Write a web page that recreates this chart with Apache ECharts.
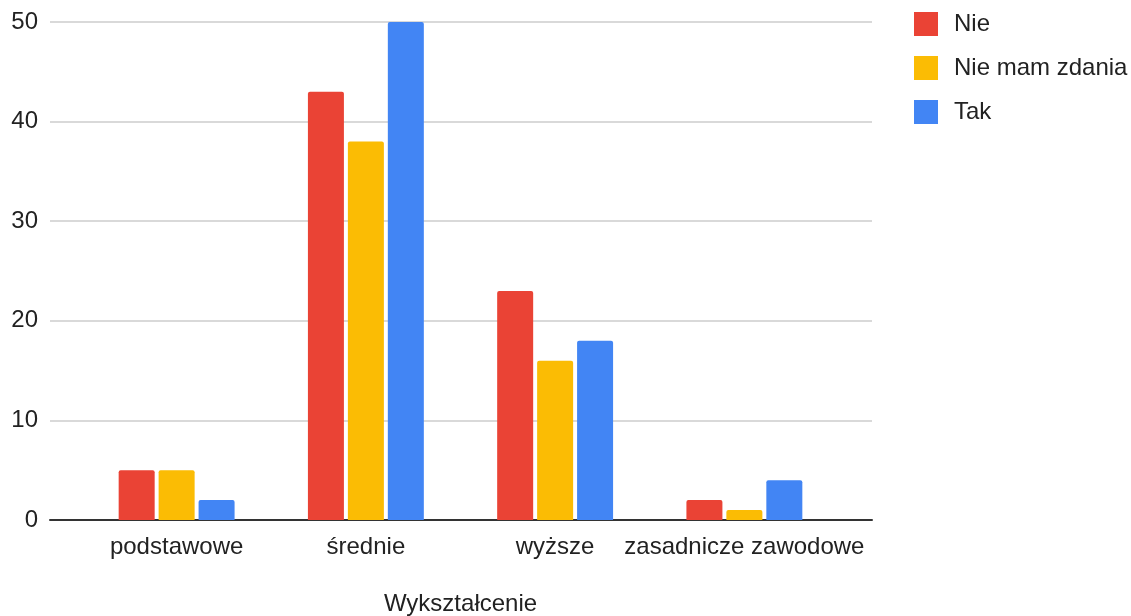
<!DOCTYPE html>
<html><head><meta charset="utf-8">
<script src="https://cdn.jsdelivr.net/npm/echarts@6/dist/echarts.min.js"></script>
<style>html,body{margin:0;padding:0;background:#fff}#c{width:1131px;height:616px}</style>
</head><body><div id="c"></div>
<script>
const categories = ['podstawowe', 'średnie', 'wyższe', 'zasadnicze zawodowe'];
const seriesNames = ['Nie', 'Nie mam zdania', 'Tak'];
const nie = [5, 43, 23, 2];
const nieMamZdania = [5, 38, 16, 1];
const tak = [2, 50, 18, 4];
const yTicks = [0, 10, 20, 30, 40, 50];
const colors = ['#EA4335', '#FBBC04', '#4285F4'];
const values = [nie, nieMamZdania, tak];

const font = '"Liberation Sans", Arial, sans-serif';
const txt = '#222';
const chart = echarts.init(document.getElementById('c'), null, {renderer: 'canvas'});
chart.setOption({
  animation: false,
  color: colors,
  textStyle: {fontFamily: font},
  legend: {
    orient: 'vertical', left: 909, top: 7,
    itemWidth: 24, itemHeight: 24, itemGap: 20, icon: 'rect',
    textStyle: {fontSize: 24, color: txt, fontFamily: font, padding: [0, 0, 0, 11]},
    data: seriesNames
  },
  grid: [
    {left: 50, right: 259, top: 22, bottom: 96, outerBoundsMode: 'none', containLabel: false},
    {left: 82, right: 292, top: 22, bottom: 96, outerBoundsMode: 'none', containLabel: false}
  ],
  xAxis: [
    {type: 'category', gridIndex: 0, data: categories, axisLabel: {show: false}, axisTick: {show: false},
     axisLine: {show: true, lineStyle: {color: '#333', width: 2}}},
    {type: 'category', gridIndex: 1, data: categories, axisTick: {show: false}, axisLine: {show: false},
     axisLabel: {fontSize: 24, color: txt, margin: 15, fontFamily: font, interval: 0},
     name: 'Wykształcenie', nameLocation: 'middle', nameGap: 72,
     nameTextStyle: {fontSize: 24, color: txt, fontFamily: font}}
  ],
  yAxis: [
    {type: 'value', gridIndex: 0, min: 0, max: yTicks[yTicks.length - 1], interval: 10,
     axisLine: {show: false}, axisTick: {show: false},
     axisLabel: {fontSize: 24, color: txt, margin: 12, fontFamily: font},
     splitLine: {lineStyle: {color: '#ccc', width: 1.5}}},
    {type: 'value', gridIndex: 1, min: 0, max: yTicks[yTicks.length - 1], interval: 10,
     show: false, splitLine: {show: false}}
  ],
  series: seriesNames.map((n, i) => ({
    name: n, type: 'bar', xAxisIndex: 1, yAxisIndex: 1,
    data: values[i], barWidth: 36, barGap: '11%',
    itemStyle: {color: colors[i], borderRadius: [2, 2, 0, 0]}
  }))
});
</script></body></html>
